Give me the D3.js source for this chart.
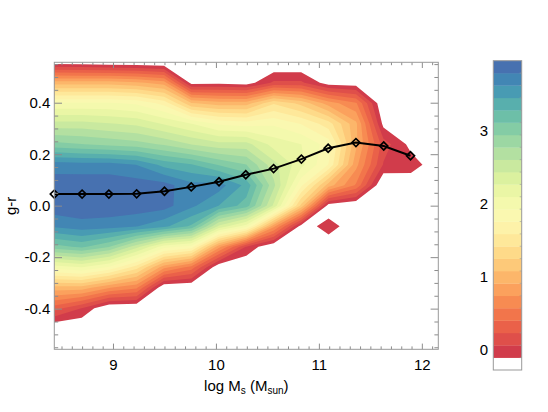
<!DOCTYPE html>
<html><head><meta charset="utf-8">
<script src="https://cdn.jsdelivr.net/npm/d3@7"></script>
<style>
html,body{margin:0;padding:0;background:#fff;}
svg{display:block;font-family:"Liberation Sans",Arial,Helvetica,sans-serif;}
</style></head><body>
<svg id="chart" width="548" height="412"></svg>
<script>
// ---------------- data ----------------
// density grid: 15 x 15 nodes, row 0 = top (g-r = 0.557), column 0 = log Ms 8.43
const xGridRange = [8.43, 12.16];
const yGridRange = [0.557, -0.558];
const densityRows = [
  [-0.2, -0.22, -0.25, -0.27, -0.3, -0.3, -0.3, -0.3, -0.3, -0.3, -0.3, -0.3, -0.3, -0.3, -0.3],
  [1.0, 1.0, 1.0, 0.95, 0.83, -0.18, -0.16, -0.2, 0.1, 0.1, -0.2, -0.22, -0.3, -0.3, -0.3],
  [1.95, 1.95, 1.95, 1.9, 1.7, 1.1, 1.0, 1.0, 1.4, 1.2, 0.83, 0.6, -0.31, -0.3, -0.3],
  [2.5, 2.5, 2.45, 2.4, 2.25, 2.1, 1.9, 1.85, 1.9, 1.75, 1.5, 0.95, -0.16, -0.3, -0.3],
  [3.0, 2.95, 2.9, 2.85, 2.75, 2.6, 2.5, 2.5, 2.2, 2.1, 1.85, 0.95, 0.15, -0.16, -0.3],
  [3.72, 3.7, 3.7, 3.62, 3.4, 3.3, 3.1, 2.95, 2.5, 2.15, 1.75, 0.8, 0.05, -0.02, -0.22],
  [3.88, 3.9, 3.9, 3.88, 3.86, 3.68, 3.7, 3.4, 2.65, 1.8, 1.0, 0.55, -0.33, -0.23, -0.3],
  [3.9, 3.92, 3.92, 3.9, 3.86, 3.66, 3.45, 3.2, 2.4, 1.2, -0.21, -0.3, -0.3, -0.3, -0.3],
  [3.65, 3.72, 3.69, 3.63, 3.5, 3.25, 2.4, 2.0, 0.8, -0.19, -0.04, -0.2, -0.3, -0.3, -0.3],
  [3.05, 3.15, 2.95, 2.5, 2.0, 1.85, 0.8, 0.05, -0.3, -0.3, -0.2, -0.3, -0.3, -0.3, -0.3],
  [2.0, 2.1, 1.9, 1.5, 0.8, 0.5, -0.28, -0.3, -0.3, -0.3, -0.3, -0.3, -0.3, -0.3, -0.3],
  [1.0, 1.0, 0.75, 0.6, -0.3, -0.3, -0.3, -0.3, -0.3, -0.3, -0.3, -0.3, -0.3, -0.3, -0.3],
  [0.31, 0.06, -0.3, -0.3, -0.3, -0.3, -0.3, -0.3, -0.3, -0.3, -0.3, -0.3, -0.3, -0.3, -0.3],
  [-0.3, -0.3, -0.3, -0.3, -0.3, -0.3, -0.3, -0.3, -0.3, -0.3, -0.3, -0.3, -0.3, -0.3, -0.3],
  [-0.3, -0.3, -0.3, -0.3, -0.3, -0.3, -0.3, -0.3, -0.3, -0.3, -0.3, -0.3, -0.3, -0.3, -0.3]
];
// median line
const lineX = [8.43, 8.70, 8.96, 9.23, 9.50, 9.76, 10.03, 10.29, 10.56, 10.83, 11.09, 11.36, 11.63, 11.89];
const lineY = [0.045, 0.045, 0.045, 0.046, 0.056, 0.073, 0.093, 0.12, 0.144, 0.181, 0.223, 0.245, 0.232, 0.194];
// axes
const xDomain = [8.43, 12.16];
const yDomain = [-0.558, 0.557];
const xTicks = [9, 10, 11, 12];
const xTickLabels = ["9", "10", "11", "12"];
const yTicks = [-0.4, -0.2, 0, 0.2, 0.4];
const yTickLabels = ["-0.4", "-0.2", "0.0", "0.2", "0.4"];
// colour levels
const levelMin = -0.274, levelMax = 3.961, nBands = 25;
const cbTicks = [0, 1, 2, 3];
const cbTickLabels = ["0", "1", "2", "3"];

// ---------------- drawing ----------------
const svg = d3.select("#chart");
const L = 54.3, R = 438.3, T = 62.3, B = 349.3;
const x = d3.scaleLinear().domain(xDomain).range([L, R]);
const y = d3.scaleLinear().domain(yDomain).range([B, T]);

const nx = densityRows[0].length, ny = densityRows.length;
const gdx = (xGridRange[1] - xGridRange[0]) / (nx - 1);
const gdy = (yGridRange[0] - yGridRange[1]) / (ny - 1);
const step = (levelMax - levelMin) / nBands;
const levels = d3.range(1, nBands).map(k => levelMin + k * step);
const bandColor = k => k === 0 ? "#ffffff" : d3.interpolateSpectral(0.1 + (k - 1) * (0.84 / (nBands - 2)));

const values = densityRows.flat();
const contours = d3.contours().size([nx, ny]).thresholds(levels)(values);
const proj = d3.geoTransform({
  point: function (cx, cy) {
    const xv = xGridRange[0] + (cx - 0.5) * gdx;
    const yv = yGridRange[0] - (cy - 0.5) * gdy;
    this.stream.point(x(xv), y(yv));
  }
});
const gpath = d3.geoPath(proj);

svg.append("clipPath").attr("id", "plotclip")
  .append("rect").attr("x", L).attr("y", T).attr("width", R - L).attr("height", B - T);

svg.append("g").attr("clip-path", "url(#plotclip)")
  .selectAll("path").data(contours).join("path")
  .attr("d", gpath)
  .attr("fill", (d, i) => bandColor(i + 1))
  .attr("stroke", "none");

// line + markers
const lineData = lineX.map((v, i) => [v, lineY[i]]);
svg.append("path").datum(lineData)
  .attr("d", d3.line().x(d => x(d[0])).y(d => y(d[1])))
  .attr("fill", "none").attr("stroke", "#000").attr("stroke-width", 2);
const diamond = d3.symbol().type(d3.symbolSquare).size(32);
svg.append("g").selectAll("path").data(lineData).join("path")
  .attr("d", diamond)
  .attr("transform", d => `translate(${x(d[0])},${y(d[1])}) rotate(45)`)
  .attr("fill", "none").attr("stroke", "#000").attr("stroke-width", 1.7);

// axes
const tickCol = "#8c8c8c";
const xMinor = d3.range(85, 122).map(i => i / 10).filter(v => Math.abs(v - Math.round(v)) > 1e-6);
const yMinor = d3.range(-11, 12).map(i => i * 0.05).filter(v => Math.abs(v / 0.2 - Math.round(v / 0.2)) > 1e-6);
const xMaj = 5.7, xMin = 2.9, yMaj = 7.7, yMin = 3.9;

function styleAxis(g) {
  g.select(".domain").remove();
  g.selectAll(".tick line").attr("stroke", tickCol);
  g.selectAll("text").attr("fill", "#000").attr("font-size", 15)
    .attr("font-family", '"Liberation Sans",Arial,sans-serif');
}
// bottom
svg.append("g").attr("transform", `translate(0,${B})`)
  .call(d3.axisBottom(x).tickValues(xTicks).tickFormat((d, i) => xTickLabels[i]).tickSizeInner(-xMaj).tickSizeOuter(0).tickPadding(10))
  .call(styleAxis);
svg.append("g").attr("transform", `translate(0,${B})`)
  .call(d3.axisBottom(x).tickValues(xMinor).tickFormat("").tickSizeInner(-xMin).tickSizeOuter(0)).call(styleAxis);
// top
svg.append("g").attr("transform", `translate(0,${T})`)
  .call(d3.axisTop(x).tickValues(xTicks).tickFormat("").tickSizeInner(-xMaj).tickSizeOuter(0)).call(styleAxis);
svg.append("g").attr("transform", `translate(0,${T})`)
  .call(d3.axisTop(x).tickValues(xMinor).tickFormat("").tickSizeInner(-xMin).tickSizeOuter(0)).call(styleAxis);
// left
svg.append("g").attr("transform", `translate(${L},0)`)
  .call(d3.axisLeft(y).tickValues(yTicks).tickFormat((d, i) => yTickLabels[i]).tickSizeInner(-yMaj).tickSizeOuter(0).tickPadding(4))
  .call(styleAxis);
svg.append("g").attr("transform", `translate(${L},0)`)
  .call(d3.axisLeft(y).tickValues(yMinor).tickFormat("").tickSizeInner(-yMin).tickSizeOuter(0)).call(styleAxis);
// right
svg.append("g").attr("transform", `translate(${R},0)`)
  .call(d3.axisRight(y).tickValues(yTicks).tickFormat("").tickSizeInner(-yMaj).tickSizeOuter(0)).call(styleAxis);
svg.append("g").attr("transform", `translate(${R},0)`)
  .call(d3.axisRight(y).tickValues(yMinor).tickFormat("").tickSizeInner(-yMin).tickSizeOuter(0)).call(styleAxis);

svg.append("rect").attr("x", L).attr("y", T).attr("width", R - L).attr("height", B - T)
  .attr("fill", "none").attr("stroke", "#999").attr("stroke-width", 1);

// axis titles
const xt = svg.append("text").attr("x", (L + R) / 2).attr("y", 391)
  .attr("text-anchor", "middle").attr("font-size", 15).attr("fill", "#000");
xt.append("tspan").text("log M");
xt.append("tspan").attr("font-size", 10).attr("dy", 3).text("s");
xt.append("tspan").attr("dy", -3).text(" (M");
xt.append("tspan").attr("font-size", 10).attr("dy", 3).text("sun");
xt.append("tspan").attr("dy", -3).text(")");

svg.append("text").attr("transform", `translate(15.5,${(T + B) / 2}) rotate(-90)`)
  .attr("text-anchor", "middle").attr("font-size", 15).attr("fill", "#000").text("g-r");

// colour bar
const cbL = 493.3, cbR = 521.7, cbT = 60.7, cbB = 370;
const cb = d3.scaleLinear().domain([levelMin, levelMax]).range([cbB, cbT]);
const bands = d3.range(0, nBands);
svg.append("g").selectAll("rect").data(bands).join("rect")
  .attr("x", cbL).attr("width", cbR - cbL)
  .attr("y", k => cb(levelMin + (k + 1) * step))
  .attr("height", k => cb(levelMin + k * step) - cb(levelMin + (k + 1) * step) + 0.3)
  .attr("fill", k => bandColor(k));
svg.append("g").selectAll("line").data(d3.range(1, nBands)).join("line")
  .attr("x1", cbR - 2).attr("x2", cbR)
  .attr("y1", k => cb(levelMin + k * step)).attr("y2", k => cb(levelMin + k * step))
  .attr("stroke", "#999").attr("stroke-width", 0.6);
svg.append("rect").attr("x", cbL).attr("y", cbT).attr("width", cbR - cbL).attr("height", cbB - cbT)
  .attr("fill", "none").attr("stroke", "#999").attr("stroke-width", 1);
svg.append("g").selectAll("text").data(cbTicks).join("text")
  .attr("x", 488).attr("y", d => cb(d)).attr("dy", "0.36em")
  .attr("text-anchor", "end").attr("font-size", 15).attr("fill", "#000")
  .text((d, i) => cbTickLabels[i]);
</script>
</body></html>
